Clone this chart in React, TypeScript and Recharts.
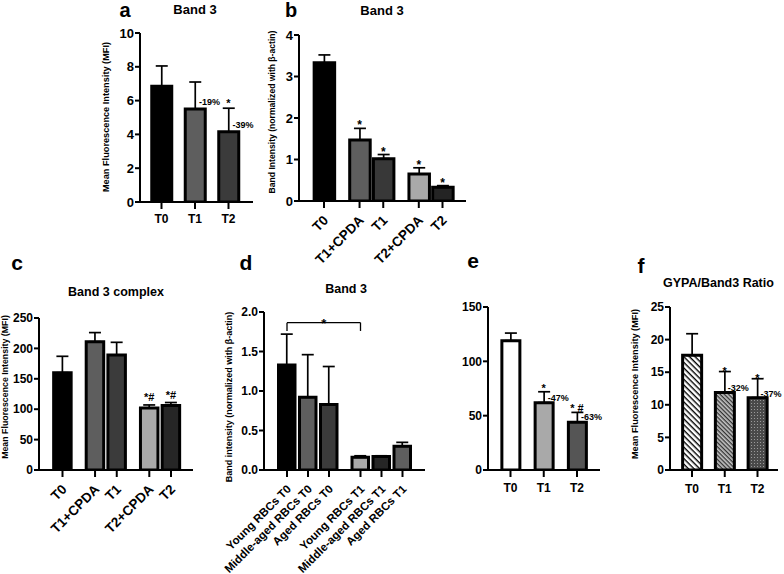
import React from "react";
import { Bar, BarChart, Cell, ErrorBar, ReferenceDot, ReferenceLine, XAxis, YAxis } from "recharts";

const FONT = "'Liberation Sans', Arial, Helvetica, sans-serif";
const W = 784;
const H = 574;

// a: Band 3 (MFI)
const A_CATS = ["T0", "T1", "T2"];
const A_MEAN = [6.85, 5.5, 4.15];
const A_SD = [1.2, 1.6, 1.4];
const A_TICKS = [0, 2, 4, 6, 8, 10];
const A_MARK = ["", "", "*"];
const A_PCT = ["", "-19%", "-39%"];

// b: Band 3 western blot
const B_CATS = ["T0", "T1+CPDA", "T1", "T2+CPDA", "T2"];
const B_MEAN = [3.33, 1.47, 1.02, 0.65, 0.33];
const B_SD = [0.19, 0.28, 0.1, 0.15, 0.04];
const B_TICKS = [0, 1, 2, 3, 4];
const B_MARK = ["", "*", "*", "*", "*"];

// c: Band 3 complex
const C_CATS = ["T0", "T1+CPDA", "T1", "T2+CPDA", "T2"];
const C_MEAN = [160, 211, 189, 102, 106];
const C_SD = [27, 15, 21, 5, 5];
const C_TICKS = [0, 50, 100, 150, 200, 250];
const C_MARK = ["", "", "", "*#", "*#"];

// d: Band 3 by RBC age
const D_CATS = [
  "Young RBCs T0",
  "Middle-aged RBCs T0",
  "Aged RBCs T0",
  "Young RBCs T1",
  "Middle-aged RBCs T1",
  "Aged RBCs T1",
];
const D_MEAN = [1.33, 0.92, 0.83, 0.16, 0.17, 0.3];
const D_SD = [0.39, 0.54, 0.48, 0.02, 0.01, 0.05];
const D_TICKS = [0, 0.5, 1, 1.5, 2];
const D_BRACKET = [1.865, 1.76]; // bar level, end drop

// e
const E_CATS = ["T0", "T1", "T2"];
const E_MEAN = [119, 62, 44];
const E_SD = [7, 10, 9];
const E_TICKS = [0, 50, 100, 150];
const E_MARK = ["", "*", "* #"];
const E_PCT = ["", "-47%", "-63%"];

// f: GYPA/Band3 ratio
const F_CATS = ["T0", "T1", "T2"];
const F_MEAN = [17.6, 11.9, 11.1];
const F_SD = [3.3, 3.2, 2.9];
const F_TICKS = [0, 5, 10, 15, 20, 25];
const F_MARK = ["", "*", "*"];
const F_PCT = ["", "-32%", "-37%"];

type Layout = {
  x0: number; x1: number; top: number; zero: number;
  c0: number; u: number; slots: number[]; barSize: number;
};

const LAY_A: Layout = { x0: 140, x1: 253, top: 33, zero: 202, c0: 161.5, u: 33.5, slots: [0, 1, 2], barSize: 20 };
const LAY_B: Layout = { x0: 299, x1: 466, top: 35, zero: 201, c0: 324, u: 23.7, slots: [0, 1.5, 2.5, 4, 5], barSize: 20.5 };
const LAY_C: Layout = { x0: 39, x1: 193, top: 318, zero: 470, c0: 62.5, u: 21.7, slots: [0, 1.5, 2.5, 4, 5], barSize: 17.5 };
const LAY_D: Layout = { x0: 264, x1: 425, top: 312, zero: 470, c0: 287, u: 21, slots: [0, 1, 2, 3.5, 4.5, 5.5], barSize: 16.5 };
const LAY_E: Layout = { x0: 488, x1: 600, top: 307, zero: 470, c0: 510.5, u: 33.25, slots: [0, 1, 2], barSize: 18 };
const LAY_F: Layout = { x0: 670, x1: 778, top: 307, zero: 470, c0: 692, u: 32.75, slots: [0, 1, 2], barSize: 19 };

const AXIS = { stroke: "#000", strokeWidth: 2 };

const note = (text: string, dx: number, dy: number, size: number, anchor: string) => (p: any) => {
  const vb = p.viewBox || {};
  const cx = vb.x + (vb.width || 0) / 2;
  const cy = vb.y + (vb.height || 0) / 2;
  return (
    <text x={cx + dx} y={cy + dy} textAnchor={anchor} fontSize={size} fontWeight="bold" fontFamily={FONT} fill="#000">
      {text}
    </text>
  );
};

function RotTick(props: any) {
  const { x, y, payload, size, names, slots } = props;
  const i = slots.indexOf(payload.value);
  const px = x + 2;
  const py = y + 5;
  return (
    <text
      x={px}
      y={py}
      transform={`rotate(-45 ${px} ${py})`}
      textAnchor="end"
      dominantBaseline="central"
      fontSize={size}
      fontWeight="bold"
      fontFamily={FONT}
      fill="#000"
    >
      {names[i]}
    </text>
  );
}

type PanelProps = {
  cats: string[]; mean: number[]; sd: number[]; fills: string[]; yTicks: number[];
  lay: Layout; yFont: number; xFont: number; rotated?: boolean; xMargin?: number;
  yFmt?: (v: number) => string;
  marks?: string[]; markDy?: number; markSize?: number;
  pcts?: string[]; pctDx?: number; pctDy?: number;
  children?: React.ReactNode;
};

function Panel(p: PanelProps) {
  const { cats, mean, sd, lay } = p;
  const rows = cats.map((name, i) => ({ name, pos: lay.slots[i], mean: mean[i], err: [0, sd[i]] }));
  const xDomain = [(lay.x0 - lay.c0) / lay.u, (lay.x1 - lay.c0) / lay.u];
  const yMax = p.yTicks[p.yTicks.length - 1];
  const tickText = { fill: "#000", fontWeight: "bold", fontFamily: FONT };
  return (
    <div style={{ position: "absolute", left: 0, top: 0 }}>
      <BarChart
        width={W}
        height={H}
        data={rows}
        margin={{ top: lay.top, right: W - lay.x1, bottom: H - lay.zero - 90, left: lay.x0 - 20 }}
      >
        {p.children}
        <XAxis
          dataKey="pos"
          type="number"
          domain={xDomain}
          allowDataOverflow
          ticks={lay.slots}
          interval={0}
          height={90}
          axisLine={AXIS}
          tickLine={AXIS}
          tickSize={7}
          tickMargin={p.xMargin ?? 5}
          tickFormatter={(v: number) => cats[lay.slots.indexOf(v)]}
          tick={
            p.rotated ? (
              <RotTick size={p.xFont} names={cats} slots={lay.slots} />
            ) : (
              { ...tickText, fontSize: p.xFont }
            )
          }
        />
        <YAxis
          type="number"
          domain={[0, yMax]}
          allowDataOverflow
          ticks={p.yTicks}
          interval={0}
          width={20}
          axisLine={AXIS}
          tickLine={AXIS}
          tickSize={5}
          tickMargin={1}
          tickFormatter={p.yFmt}
          tick={{ ...tickText, fontSize: p.yFont }}
        />
        <Bar dataKey="mean" barSize={lay.barSize} stroke="#000" strokeWidth={3} isAnimationActive={false}>
          {rows.map((_, i) => (
            <Cell key={i} fill={p.fills[i]} />
          ))}
          <ErrorBar dataKey="err" width={6} stroke="#000" strokeWidth={1.7} direction="y" />
        </Bar>
        {(p.marks || []).map((m, i) =>
          m ? (
            <ReferenceDot
              key={"m" + i}
              x={rows[i].pos}
              y={mean[i] + sd[i]}
              r={1}
              fill="none"
              stroke="none"
              ifOverflow="visible"
              label={note(m, 0, p.markDy ?? 0, p.markSize ?? 11, "middle")}
            />
          ) : null
        )}
        {(p.pcts || []).map((t, i) =>
          t ? (
            <ReferenceDot
              key={"p" + i}
              x={rows[i].pos}
              y={mean[i]}
              r={1}
              fill="none"
              stroke="none"
              ifOverflow="visible"
              label={note(t, p.pctDx ?? 4, p.pctDy ?? -2, 9, "start")}
            />
          ) : null
        )}
      </BarChart>
    </div>
  );
}

const TEXTS = [
  { t: "a", x: 125, y: 17, s: 20 },
  { t: "Band 3", x: 195, y: 14, s: 13 },
  { t: "b", x: 291, y: 17, s: 20 },
  { t: "Band 3", x: 382, y: 15, s: 13 },
  { t: "c", x: 17, y: 270, s: 21 },
  { t: "Band 3 complex", x: 116, y: 296, s: 12.5 },
  { t: "d", x: 246, y: 270, s: 21 },
  { t: "Band 3", x: 346, y: 293, s: 12.5 },
  { t: "e", x: 473, y: 268, s: 21 },
  { t: "f", x: 641, y: 273, s: 21 },
];

const YLABELS = [
  { t: "Mean Fluorescence Intensity (MFI)", x: 106, y: 117, s: 9.2 },
  { t: "Band Intensity (normalized with \u03b2-actin)", x: 272, y: 112, s: 8.6 },
  { t: "Mean Fluorescence Intensity (MFI)", x: 5, y: 387, s: 8.8 },
  { t: "Band intensity (normalized with \u03b2-actin)", x: 229, y: 397, s: 9 },
  { t: "Mean Fluorescence Intensity (MFI)", x: 635, y: 384, s: 9.2 },
];

export default function App() {
  return (
    <div style={{ position: "absolute", left: 0, top: 0, width: W, height: H, background: "#fff", overflow: "hidden" }}>
      <Panel cats={A_CATS} mean={A_MEAN} sd={A_SD} fills={["#000", "#5e5e5e", "#3b3b3b"]} yTicks={A_TICKS}
        lay={LAY_A} yFont={13} xFont={12} xMargin={5} marks={A_MARK} markDy={-1} markSize={11}
        pcts={A_PCT} pctDx={4} pctDy={-4} />
      <Panel cats={B_CATS} mean={B_MEAN} sd={B_SD} fills={["#000", "#5e5e5e", "#383838", "#a9a9a9", "#242424"]}
        yTicks={B_TICKS} lay={LAY_B} yFont={13} xFont={13.5} rotated marks={B_MARK} markDy={1} markSize={12} />
      <Panel cats={C_CATS} mean={C_MEAN} sd={C_SD} fills={["#000", "#5e5e5e", "#3b3b3b", "#a9a9a9", "#262626"]}
        yTicks={C_TICKS} lay={LAY_C} yFont={12} xFont={13.5} rotated marks={C_MARK} markDy={-4} markSize={11} />
      <Panel cats={D_CATS} mean={D_MEAN} sd={D_SD} fills={["#000", "#5e5e5e", "#3b3b3b", "#a9a9a9", "#262626", "#5e5e5e"]}
        yTicks={D_TICKS} lay={LAY_D} yFont={12} xFont={11.5} rotated yFmt={(v: number) => v.toFixed(1)}>
        <ReferenceLine segment={[{ x: LAY_D.slots[0], y: D_BRACKET[0] }, { x: LAY_D.slots[3], y: D_BRACKET[0] }]}
          stroke="#000" strokeWidth={1.3} ifOverflow="visible" />
        <ReferenceLine segment={[{ x: LAY_D.slots[0], y: D_BRACKET[0] }, { x: LAY_D.slots[0], y: D_BRACKET[1] }]}
          stroke="#000" strokeWidth={1.3} ifOverflow="visible" />
        <ReferenceLine segment={[{ x: LAY_D.slots[3], y: D_BRACKET[0] }, { x: LAY_D.slots[3], y: D_BRACKET[1] }]}
          stroke="#000" strokeWidth={1.3} ifOverflow="visible" />
        <ReferenceDot x={(LAY_D.slots[0] + LAY_D.slots[3]) / 2} y={D_BRACKET[0]} r={1} fill="none" stroke="none"
          ifOverflow="visible" label={note("*", 0, 5, 13, "middle")} />
      </Panel>
      <Panel cats={E_CATS} mean={E_MEAN} sd={E_SD} fills={["#fff", "#a9a9a9", "#555"]} yTicks={E_TICKS}
        lay={LAY_E} yFont={12} xFont={12} xMargin={6} marks={E_MARK} markDy={0} markSize={11}
        pcts={E_PCT} pctDx={4} pctDy={-2} />
      <Panel cats={F_CATS} mean={F_MEAN} sd={F_SD} fills={["url(#hatchA)", "url(#hatchB)", "url(#dotsC)"]}
        yTicks={F_TICKS} lay={LAY_F} yFont={12} xFont={12} xMargin={7} marks={F_MARK} markDy={3} markSize={11}
        pcts={F_PCT} pctDx={3} pctDy={-1}>
        <defs>
          <pattern id="hatchA" width="4" height="4" patternUnits="userSpaceOnUse" patternTransform="rotate(45)">
            <rect width="4" height="4" fill="#fff" />
            <rect width="4" height="1.4" fill="#000" />
          </pattern>
          <pattern id="hatchB" width="3" height="3" patternUnits="userSpaceOnUse" patternTransform="rotate(45)">
            <rect width="3" height="3" fill="#c4c4c4" />
            <rect width="3" height="1.3" fill="#333" />
          </pattern>
          <pattern id="dotsC" width="3" height="3" patternUnits="userSpaceOnUse">
            <rect width="3" height="3" fill="#4a4a4a" />
            <rect x="1" y="1" width="1" height="1" fill="#9a9a9a" />
          </pattern>
        </defs>
      </Panel>
      <svg width={W} height={H} style={{ position: "absolute", left: 0, top: 0, pointerEvents: "none" }}>
        {TEXTS.map((d, i) => (
          <text key={i} x={d.x} y={d.y} textAnchor="middle" fontSize={d.s} fontWeight="bold" fontFamily={FONT} fill="#000">
            {d.t}
          </text>
        ))}
        <text x={663} y={287} fontSize={12.5} fontWeight="bold" fontFamily={FONT} fill="#000">
          GYPA/Band3 Ratio
        </text>
        {YLABELS.map((d, i) => (
          <text key={"y" + i} x={d.x} y={d.y} transform={`rotate(-90 ${d.x} ${d.y})`} textAnchor="middle"
            dominantBaseline="central" fontSize={d.s} fontWeight="bold" fontFamily={FONT} fill="#000">
            {d.t}
          </text>
        ))}
      </svg>
    </div>
  );
}
